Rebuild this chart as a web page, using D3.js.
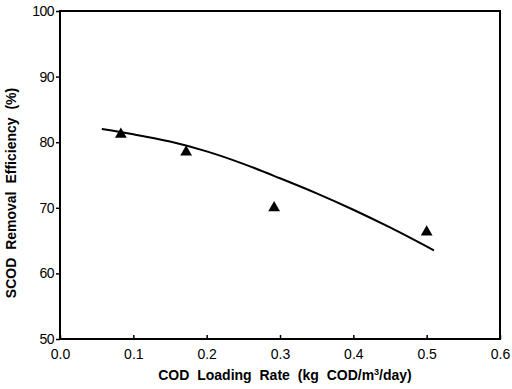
<!DOCTYPE html>
<html>
<head>
<meta charset="utf-8">
<script src="https://cdn.jsdelivr.net/npm/d3@7"></script>
<style>
  body { margin: 0; background: #fff; }
  text { font-family: "Liberation Sans", Arial, sans-serif; fill: #000; }
</style>
</head>
<body>
<script>
var width = 512, height = 389;

// measured points (loading rate, removal efficiency)
var loadRate = [0.083, 0.172, 0.292, 0.5];
var removal = [81.2, 78.5, 70.0, 66.3];

// fitted curve
var curveX = [0.057, 0.1, 0.15, 0.2, 0.25, 0.3, 0.35, 0.4, 0.45, 0.51];
var curveY = [82.0, 81.2, 80.1, 78.6, 76.7, 74.5, 72.2, 69.7, 67.0, 63.5];

var xTicks = [0, 0.1, 0.2, 0.3, 0.4, 0.5, 0.6];
var yTicks = [50, 60, 70, 80, 90, 100];

// plot box (window.top is read-only, so not "top")
var plotL = 60, plotR = 500, plotT = 11, plotB = 339;

var svg = d3.select("body").append("svg").attr("width", width).attr("height", height);

var x = d3.scaleLinear().domain([0, 0.6]).range([plotL, plotR]);
var y = d3.scaleLinear().domain([50, 100]).range([plotB, plotT]);

// frame
svg.append("rect")
  .attr("x", plotL).attr("y", plotT)
  .attr("width", plotR - plotL).attr("height", plotB - plotT)
  .attr("fill", "none").attr("stroke", "#000").attr("stroke-width", 2);

var xAxis = svg.append("g")
  .attr("transform", "translate(0," + plotB + ")")
  .call(d3.axisBottom(x).tickValues(xTicks).tickFormat(d3.format(".1f")).tickSizeInner(-4).tickSizeOuter(0).tickPadding(8));
xAxis.select(".domain").remove();
xAxis.selectAll("line").attr("stroke-width", 1.5);
xAxis.selectAll("text").attr("font-size", 14).attr("dy", "0.85em");

var yAxis = svg.append("g")
  .attr("transform", "translate(" + plotL + ",0)")
  .call(d3.axisLeft(y).tickValues(yTicks).tickSizeInner(4).tickSizeOuter(0).tickPadding(2));
yAxis.select(".domain").remove();
yAxis.selectAll("line").attr("stroke-width", 1.5);
yAxis.selectAll("text").attr("font-size", 14).attr("letter-spacing", -0.5);

// curve
var line = d3.line().curve(d3.curveMonotoneX).x(function(d) { return x(d[0]); }).y(function(d) { return y(d[1]); });
svg.append("path")
  .datum(d3.zip(curveX, curveY))
  .attr("d", line)
  .attr("fill", "none").attr("stroke", "#000").attr("stroke-width", 2);

// triangles
var tri = d3.symbol().type(d3.symbolTriangle).size(60);
svg.selectAll(".pt")
  .data(d3.zip(loadRate, removal))
  .enter().append("path")
  .attr("class", "pt")
  .attr("transform", function(d) { return "translate(" + x(d[0]) + "," + y(d[1]) + ")"; })
  .attr("d", tri)
  .attr("fill", "#000");

// axis titles
var xt = svg.append("text")
  .attr("x", 285).attr("y", 380)
  .attr("text-anchor", "middle")
  .attr("font-size", 14).attr("font-weight", "bold").attr("word-spacing", 4);
xt.append("tspan").text("COD Loading Rate (kg COD/m");
xt.append("tspan").attr("font-size", 9).attr("dy", -5).text("3");
xt.append("tspan").attr("dy", 5).text("/day)");

svg.append("text")
  .attr("transform", "translate(16," + ((plotT + plotB) / 2 + 18) + ") rotate(-90)")
  .attr("text-anchor", "middle")
  .attr("font-size", 14).attr("font-weight", "bold").attr("word-spacing", 4)
  .text("SCOD Removal Efficiency (%)");
</script>
</body>
</html>
